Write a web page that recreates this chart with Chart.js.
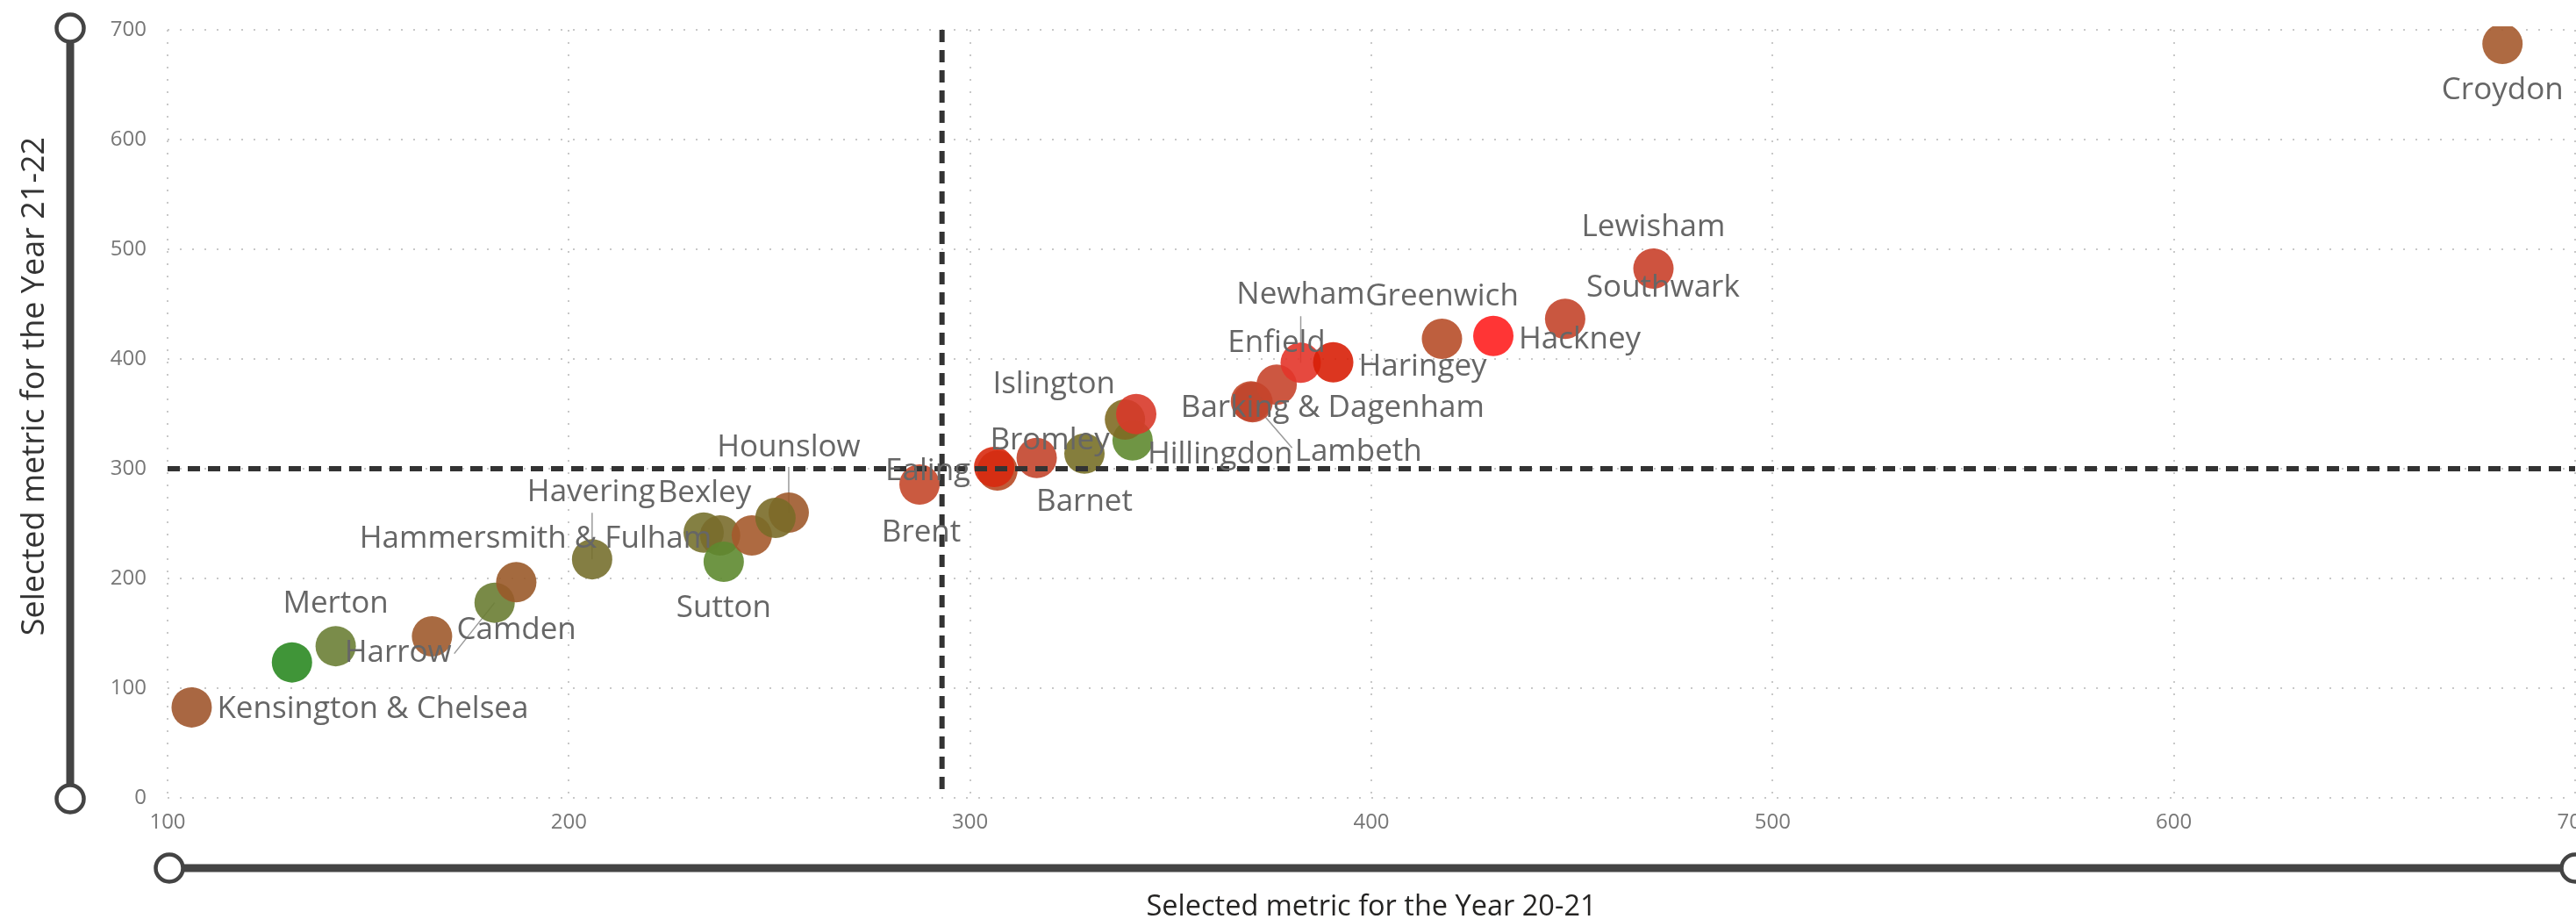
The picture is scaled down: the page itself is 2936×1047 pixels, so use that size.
<!DOCTYPE html>
<html>
<head>
<meta charset="utf-8">
<script src="https://cdn.jsdelivr.net/npm/chart.js@4.4.1/dist/chart.umd.min.js"></script>
<style>
  html, body { margin: 0; padding: 0; background: #fff; }
  #wrap { width: 2936px; height: 1047px; }
</style>
</head>
<body>
<div id="wrap"><canvas id="scatter" width="2936" height="1047"></canvas></div>
<script>
// Boroughs (x = Year 20-21, y = Year 21-22)
const boroughs = [
    'Kensington & Chelsea', 'Richmond upon Thames', 'Merton', 'Camden', 'Harrow',
    'Hammersmith & Fulham', 'Havering', 'Bexley', 'Kingston upon Thames', 'Sutton',
    'Wandsworth', 'Hounslow', 'Redbridge', 'Brent', 'Westminster', 'Ealing',
    'Bromley', 'Barnet', 'Hillingdon', 'Waltham Forest', 'Islington',
    'Barking & Dagenham', 'Lambeth', 'Enfield', 'Newham', 'Haringey',
    'Greenwich', 'Hackney', 'Southwark', 'Lewisham', 'Croydon'
];
const year2021 = [
    106.0, 131.0, 141.9, 165.9, 181.5,
    186.9, 205.8, 233.6, 237.7, 238.6,
    245.6, 254.8, 251.5, 287.4, 306.8, 306.0,
    316.6, 328.5, 340.5, 338.6, 341.4,
    370.0, 370.4, 376.4, 382.4, 390.5,
    417.6, 430.4, 448.3, 470.3, 681.9
];
const year2122 = [
    82.5, 123.5, 138.3, 147.2, 177.9,
    196.6, 217.5, 241.8, 239.2, 215.2,
    239.2, 260.0, 255.2, 285.6, 298.4, 301.6,
    309.8, 313.8, 325.8, 344.8, 349.8,
    361.5, 360.6, 376.6, 396.6, 397.0,
    418.4, 421.0, 436.6, 482.4, 687.2
];
const xTicks = [100, 200, 300, 400, 500, 600, 700];
const yTicks = [0, 100, 200, 300, 400, 500, 600, 700];
const avgX = 293;   // vertical dashed reference
const avgY = 300;   // horizontal dashed reference

// styling (kept apart from the data)
const pointColors = [
    '#a0572e', '#2b8a22', '#6b7f36', '#9e5a2c', '#6a7d33',
    '#9a5a2a', '#77702f', '#77722f', '#7a6d2c', '#5e8a30',
    '#a55a2c', '#9f5a2c', '#7a6c28', '#c4482b', '#b84a25', '#d82a10',
    '#c3452c', '#787028', '#5f8a30', '#806c24', '#d83a2a',
    '#c24a2c', '#c0462c', '#c6452c', '#e3352a', '#d82008',
    '#b74e29', '#ff1f1f', '#c3452b', '#c9402a', '#a55a2d'
];
// [dx, dy, align, leaderEnd] relative to the marker centre
const labelPlacement = {
    'Kensington & Chelsea': [29, 2, 'left'],
    'Merton': [0, -48, 'center'],
    'Harrow': [-49, 57, 'right', [-46, 58]],
    'Camden': [28, -7, 'left'],
    'Hammersmith & Fulham': [22, -49, 'center'],
    'Havering': [-1, -76, 'center', [0, -53]],
    'Bexley': [1, -45, 'center'],
    'Sutton': [0, 53, 'center'],
    'Hounslow': [0, -74, 'center', [0, -52]],
    'Brent': [2, 55, 'center'],
    'Ealing': [-27, 5, 'right'],
    'Bromley': [15, -20, 'center'],
    'Barnet': [0, 55, 'center'],
    'Islington': [-24, -34, 'right'],
    'Hillingdon': [17, 16, 'left'],
    'Barking & Dagenham': [-80, 8, 'left'],
    'Lambeth': [48, 57, 'left', [45, 52]],
    'Enfield': [0, -47, 'center'],
    'Newham': [0, -77, 'center', [0, -53]],
    'Haringey': [29, 5, 'left'],
    'Greenwich': [0, -48, 'center'],
    'Hackney': [29, 4, 'left'],
    'Southwark': [24, -35, 'left'],
    'Lewisham': [0, -47, 'center'],
    'Croydon': [0, 53, 'center']
};

const labelFont = '35px "Open Sans"';
const tickColor = '#777';
const sliderColor = '#444';

function withAlpha(hex, a) {
    const n = parseInt(hex.slice(1), 16);
    return `rgba(${n >> 16}, ${(n >> 8) & 255}, ${n & 255}, ${a})`;
}

// leader lines go under the markers
const leaderPlugin = {
    id: 'leaders',
    beforeDatasetsDraw(chart) {
        const ctx = chart.ctx;
        const meta = chart.getDatasetMeta(0);
        ctx.save();
        ctx.strokeStyle = '#9a9a9a';
        ctx.lineWidth = 1.5;
        meta.data.forEach((pt, i) => {
            const p = labelPlacement[boroughs[i]];
            if (!p || !p[3]) return;
            ctx.beginPath();
            ctx.moveTo(pt.x, pt.y);
            ctx.lineTo(pt.x + p[3][0], pt.y + p[3][1]);
            ctx.stroke();
        });
        ctx.restore();
    }
};

// dashed average lines + borough names
const overlayPlugin = {
    id: 'overlay',
    afterDatasetsDraw(chart) {
        const { ctx, chartArea, scales } = chart;
        const px = scales.x.getPixelForValue(avgX);
        const py = scales.y.getPixelForValue(avgY);
        ctx.save();
        ctx.strokeStyle = '#333';
        ctx.lineWidth = 6;
        ctx.setLineDash([14, 9]);
        ctx.beginPath();
        ctx.moveTo(chartArea.left, py);
        ctx.lineTo(chartArea.right, py);
        ctx.moveTo(px, chartArea.top);
        ctx.lineTo(px, chartArea.bottom - 8);
        ctx.stroke();
        ctx.restore();

        const meta = chart.getDatasetMeta(0);
        ctx.save();
        ctx.font = labelFont;
        ctx.fillStyle = '#666';
        ctx.textBaseline = 'middle';
        meta.data.forEach((pt, i) => {
            const p = labelPlacement[boroughs[i]];
            if (!p) return;
            ctx.textAlign = p[2];
            ctx.fillText(boroughs[i], pt.x + p[0], pt.y + p[1]);
        });
        ctx.restore();
    },
    afterDraw(chart) {
        const { ctx, chartArea } = chart;
        ctx.save();
        // range sliders
        ctx.strokeStyle = sliderColor;
        ctx.lineWidth = 9;
        ctx.beginPath();
        ctx.moveTo(80, chartArea.top - 2);
        ctx.lineTo(80, chartArea.bottom + 1);
        ctx.moveTo(chartArea.left + 2, 989);
        ctx.lineTo(chartArea.right, 989);
        ctx.stroke();
        ctx.lineWidth = 4.5;
        ctx.fillStyle = '#fff';
        [[80, chartArea.top - 2], [80, chartArea.bottom + 1],
         [chartArea.left + 2, 989], [chartArea.right, 989]].forEach(([cx, cy]) => {
            ctx.beginPath();
            ctx.arc(cx, cy, 15.5, 0, Math.PI * 2);
            ctx.fill();
            ctx.stroke();
        });

        // axis titles
        ctx.fillStyle = '#252423';
        ctx.textAlign = 'center';
        ctx.textBaseline = 'alphabetic';
        ctx.font = '32.5px "Open Sans"';
        ctx.fillText('Selected metric for the Year 20-21', (chartArea.left + chartArea.right) / 2, 1043);
        ctx.translate(50, 440);
        ctx.rotate(-Math.PI / 2);
        ctx.fillStyle = '#333';
        ctx.font = '36px "Open Sans"';
        ctx.fillText('Selected metric for the Year 21-22', 0, 0);
        ctx.restore();
    }
};

new Chart(document.getElementById('scatter'), {
    type: 'scatter',
    data: {
        datasets: [{
            label: 'Boroughs',
            data: boroughs.map((b, i) => ({ x: year2021[i], y: year2122[i] })),
            backgroundColor: pointColors.map(c => withAlpha(c, 0.9)),
            borderWidth: 0,
            pointRadius: 23,
            pointHoverRadius: 23,
            clip: { left: 6, top: 4, right: 6, bottom: 6 }
        }]
    },
    options: {
        responsive: false,
        animation: false,
        devicePixelRatio: 1,
        layout: { autoPadding: false, padding: { top: 34, right: 1, left: 0, bottom: 0 } },
        plugins: {
            legend: { display: false },
            tooltip: { enabled: false }
        },
        scales: {
            x: {
                type: 'linear',
                min: xTicks[0],
                max: xTicks[xTicks.length - 1],
                afterBuildTicks: s => { s.ticks = xTicks.map(v => ({ value: v })); },
                afterFit: s => { s.height = 138; s.paddingLeft = 0; s.paddingRight = 0; },
                grid: { color: '#c8c8c8', lineWidth: 2, drawTicks: false },
                border: { display: false, dash: [2, 12] },
                ticks: {
                    color: tickColor,
                    padding: 14,
                    font: { family: 'Open Sans', size: 24 },
                    maxRotation: 0
                }
            },
            y: {
                type: 'linear',
                min: yTicks[0],
                max: yTicks[yTicks.length - 1],
                afterBuildTicks: s => { s.ticks = yTicks.map(v => ({ value: v })); },
                afterFit: s => { s.width = 191; s.paddingTop = 0; s.paddingBottom = 0; },
                grid: { color: '#c8c8c8', lineWidth: 2, drawTicks: false },
                border: { display: false, dash: [2, 12] },
                ticks: {
                    color: tickColor,
                    padding: 24,
                    font: { family: 'Open Sans', size: 24 }
                }
            }
        }
    },
    plugins: [leaderPlugin, overlayPlugin]
});
</script>
</body>
</html>
